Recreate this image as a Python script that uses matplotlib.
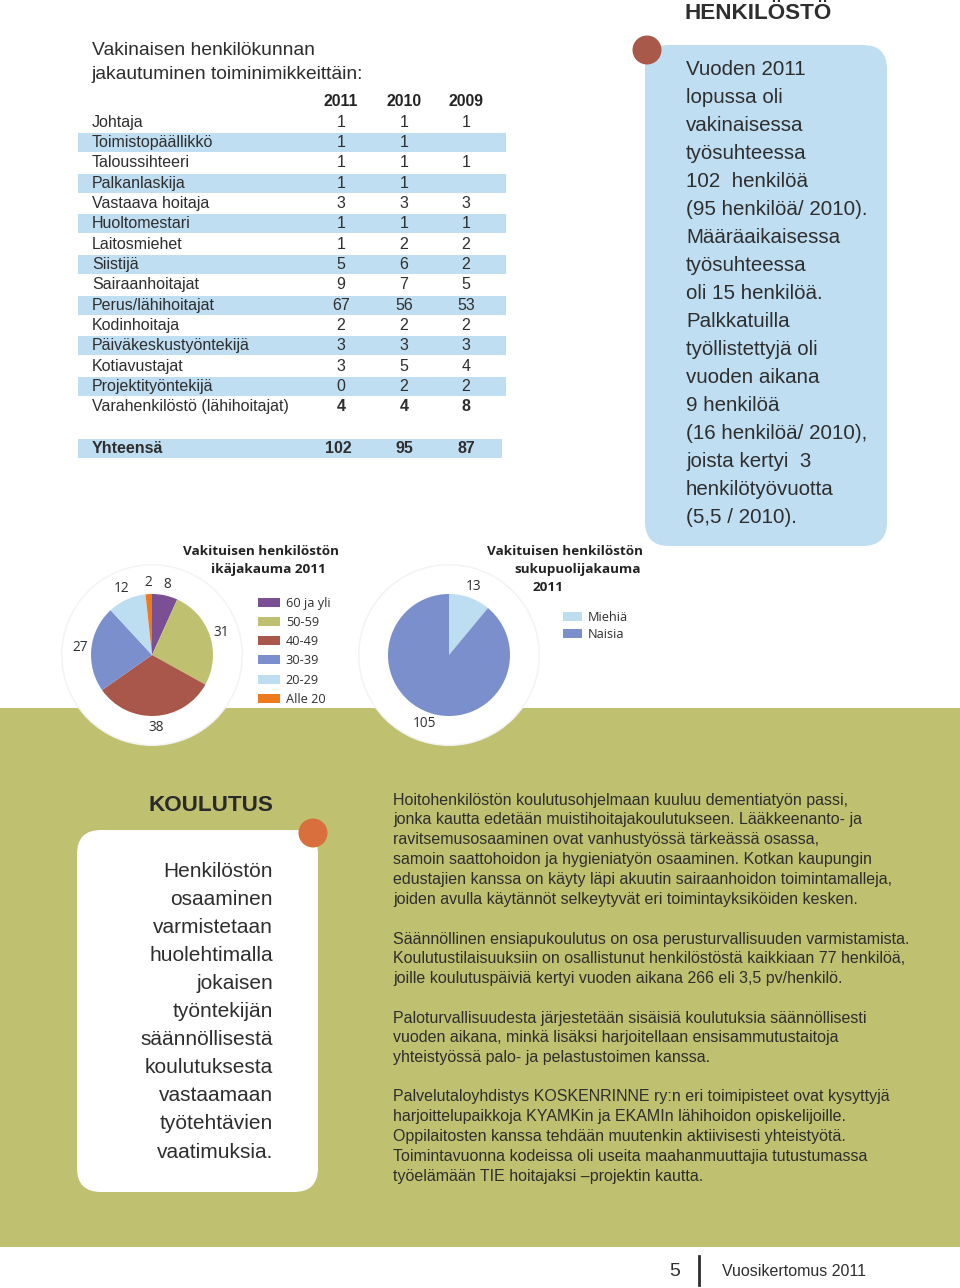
import matplotlib
matplotlib.use("Agg")
import matplotlib.pyplot as plt
from matplotlib.patches import FancyBboxPatch, Circle, Rectangle

# ---------------- data ----------------
roles = ["Johtaja", "Toimistopäällikkö", "Taloussihteeri", "Palkanlaskija",
         "Vastaava hoitaja", "Huoltomestari", "Laitosmiehet", "Siistijä",
         "Sairaanhoitajat", "Perus/lähihoitajat", "Kodinhoitaja",
         "Päiväkeskustyöntekijä", "Kotiavustajat", "Projektityöntekijä",
         "Varahenkilöstö (lähihoitajat)"]
years = ["2011", "2010", "2009"]
v2011 = [1, 1, 1, 1, 3, 1, 1, 5, 9, 67, 2, 3, 3, 0, 4]
v2010 = [1, 1, 1, 1, 3, 1, 2, 6, 7, 56, 2, 3, 5, 2, 4]
v2009 = [1, None, 1, None, 3, 1, 2, 2, 5, 53, 2, 3, 4, 2, 8]
totals = [102, 95, 87]

age_labels = ["60 ja yli", "50-59", "40-49", "30-39", "20-29", "Alle 20"]
age_values = [8, 31, 38, 27, 12, 2]
age_colors = ["#7B4F94", "#BFC170", "#A8574A", "#7A8FCC", "#BDDDF1", "#EE7A1E"]

sex_labels = ["Miehiä", "Naisia"]
sex_values = [13, 105]
sex_colors = ["#BDDDF1", "#7A8FCC"]

box_lines = ["Vuoden 2011", "lopussa oli", "vakinaisessa", "työsuhteessa",
             "102  henkilöä", "(95 henkilöä/ 2010).", "Määräaikaisessa",
             "työsuhteessa", "oli 15 henkilöä.", "Palkkatuilla",
             "työllistettyjä oli", "vuoden aikana", "9 henkilöä",
             "(16 henkilöä/ 2010),", "joista kertyi  3", "henkilötyövuotta",
             "(5,5 / 2010)."]

koulutus_lines = ["Henkilöstön", "osaaminen", "varmistetaan", "huolehtimalla",
                  "jokaisen", "työntekijän", "säännöllisestä", "koulutuksesta",
                  "vastaamaan", "työtehtävien", "vaatimuksia."]

paragraphs = [
    ["Hoitohenkilöstön koulutusohjelmaan kuuluu dementiatyön passi,",
     "jonka kautta edetään muistihoitajakoulutukseen. Lääkkeenanto- ja",
     "ravitsemusosaaminen ovat vanhustyössä tärkeässä osassa,",
     "samoin saattohoidon ja hygieniatyön osaaminen. Kotkan kaupungin",
     "edustajien kanssa on käyty läpi akuutin sairaanhoidon toimintamalleja,",
     "joiden avulla käytännöt selkeytyvät eri toimintayksiköiden kesken."],
    ["Säännöllinen ensiapukoulutus on osa perusturvallisuuden varmistamista.",
     "Koulutustilaisuuksiin on osallistunut henkilöstöstä kaikkiaan 77 henkilöä,",
     "joille koulutuspäiviä kertyi vuoden aikana 266 eli 3,5 pv/henkilö."],
    ["Paloturvallisuudesta järjestetään sisäisiä koulutuksia säännöllisesti",
     "vuoden aikana, minkä lisäksi harjoitellaan ensisammutustaitoja",
     "yhteistyössä palo- ja pelastustoimen kanssa."],
    ["Palvelutaloyhdistys KOSKENRINNE ry:n eri toimipisteet ovat kysyttyjä",
     "harjoittelupaikkoja KYAMKin ja EKAMIn lähihoidon opiskelijoille.",
     "Oppilaitosten kanssa tehdään muutenkin aktiivisesti yhteistyötä.",
     "Toimintavuonna kodeissa oli useita maahanmuuttajia tutustumassa",
     "työelämään TIE hoitajaksi \u2013projektin kautta."],
]

# ---------------- figure ----------------
W, H = 960, 1288
fig = plt.figure(figsize=(W / 100, H / 100), dpi=100)
fig.patch.set_facecolor("white")
bg = fig.add_axes([0, 0, 1, 1])
bg.set_xlim(0, W)
bg.set_ylim(H, 0)
bg.axis("off")

SANS = "Liberation Sans"
PIEF = "Open Sans"
DARK = "#2E2E2E"
GREEN = "#BFC170"
LBLUE = "#C0DEF2"

# green band
bg.add_patch(Rectangle((0, 708), W, 539, facecolor=GREEN, edgecolor="none", zorder=0))

# halos around pies
for cx, cy in [(152, 655), (449, 655)]:
    bg.add_patch(Circle((cx, cy), 91, facecolor="#F3F3F3", edgecolor="none", zorder=1))
    bg.add_patch(Circle((cx, cy), 89.5, facecolor="white", edgecolor="none", zorder=1))

# ---------------- table ----------------
bg.text(92, 50, "Vakinaisen henkilökunnan", fontsize=13.9, family=SANS, color=DARK, va="center")
bg.text(92, 74, "jakautuminen toiminimikkeittäin:", fontsize=13.9, family=SANS, color=DARK, va="center")
col_x = [341, 404, 466]
for x, yr in zip(col_x, years):
    bg.text(x, 101, yr, fontsize=11.3, family=SANS, weight="bold", color="#222222",
            ha="center", va="center")
row_y0, row_dy = 122, 20.35
FS = 11.5
for i, role in enumerate(roles):
    y = row_y0 + i * row_dy
    if i % 2 == 1:
        bg.add_patch(Rectangle((78, y - 9.5), 428, 19, facecolor=LBLUE, edgecolor="none", zorder=1))
    bold = "bold" if i == len(roles) - 1 else "normal"
    bg.text(92, y, role, fontsize=FS, family=SANS, color=DARK, va="center", zorder=2)
    for x, v in zip(col_x, (v2011[i], v2010[i], v2009[i])):
        if v is not None:
            bg.text(x, y, str(v), fontsize=FS, family=SANS, color=DARK, weight=bold,
                    ha="center", va="center", zorder=2)
ty = 448
bg.add_patch(Rectangle((78, ty - 9.5), 424, 19, facecolor=LBLUE, edgecolor="none", zorder=1))
bg.text(92, ty, "Yhteensä", fontsize=FS, family=SANS, weight="bold", color=DARK, va="center", zorder=2)
for x, v in zip(col_x, totals):
    bg.text(x - 3 if v >= 100 else x, ty, str(v), fontsize=FS, family=SANS, weight="bold",
            color=DARK, ha="center", va="center", zorder=2)

# ---------------- HENKILÖSTÖ box ----------------
bg.text(685, 13, "HENKILÖSTÖ", fontsize=16.2, family=SANS, weight="bold", color=DARK, va="center")
bg.add_patch(FancyBboxPatch((645, 45), 242, 501, boxstyle="round,pad=0,rounding_size=24",
                            facecolor=LBLUE, edgecolor="none", zorder=1))
bg.add_patch(Circle((647, 50), 14.5, facecolor="#A9594A", edgecolor="none", zorder=2))
for i, line in enumerate(box_lines):
    bg.text(686, 69 + i * 28.06, line, fontsize=14.8, family=SANS, color=DARK, va="center", zorder=3)

# ---------------- pies ----------------
R = 61.0
def pie_axes(cx, cy):
    s = 3 * R
    ax = fig.add_axes([(cx - s / 2) / W, (H - cy - s / 2) / H, s / W, s / H])
    ax.set_zorder(3)
    return ax

ax1 = pie_axes(152, 655)
w1, t1 = ax1.pie(age_values, colors=age_colors, startangle=90, counterclock=False,
                 labels=[str(v) for v in age_values], labeldistance=1.19,
                 textprops=dict(fontsize=9.8, family=PIEF, color=DARK),
                 wedgeprops=dict(linewidth=0))
for t in t1:
    t.set_ha("center"); t.set_va("center")
ax1.set_xlim(-1.5, 1.5); ax1.set_ylim(-1.5, 1.5); ax1.set_aspect("equal")

ax2 = pie_axes(449, 655)
w2, t2 = ax2.pie(sex_values, colors=sex_colors, startangle=90, counterclock=False,
                 labels=[str(v) for v in sex_values], labeldistance=1.2,
                 textprops=dict(fontsize=9.8, family=PIEF, color=DARK),
                 wedgeprops=dict(linewidth=0))
for t in t2:
    t.set_ha("center"); t.set_va("center")
ax2.set_xlim(-1.5, 1.5); ax2.set_ylim(-1.5, 1.5); ax2.set_aspect("equal")

# pie titles
TF = dict(fontsize=9.7, family=PIEF, weight="bold", color="#222222", ha="center", va="center")
bg.text(261, 551, "Vakituisen henkilöstön", **TF)
bg.text(268, 569, "ikäjakauma 2011", **TF)
bg.text(565, 551, "Vakituisen henkilöstön", **TF)
bg.text(578, 569, "sukupuolijakauma", **TF)
bg.text(548, 587, "2011", **TF)

leg1 = bg.legend(w1, age_labels, loc="upper left", bbox_to_anchor=(258, 597),
                 bbox_transform=bg.transData, frameon=False,
                 prop=dict(family=PIEF, size=9.2), handlelength=1.72, handleheight=0.7,
                 handletextpad=0.45, labelspacing=0.48, borderpad=0, borderaxespad=0)
for t in leg1.get_texts():
    t.set_color(DARK)
bg.add_artist(leg1)
leg2 = bg.legend(w2, sex_labels, loc="upper left", bbox_to_anchor=(563, 611),
                 bbox_transform=bg.transData, frameon=False,
                 prop=dict(family=PIEF, size=9.2), handlelength=1.45, handleheight=0.7,
                 handletextpad=0.45, labelspacing=0.28, borderpad=0, borderaxespad=0)
for t in leg2.get_texts():
    t.set_color(DARK)

# ---------------- KOULUTUS ----------------
bg.text(211, 805, "KOULUTUS", fontsize=16.2, family=SANS, weight="bold", color="#2A2A2A",
        ha="center", va="center")
bg.add_patch(FancyBboxPatch((77, 830), 241, 362, boxstyle="round,pad=0,rounding_size=24",
                            facecolor="white", edgecolor="none", zorder=1))
bg.add_patch(Circle((313, 833), 14.5, facecolor="#D86F3C", edgecolor="none", zorder=2))
for i, line in enumerate(koulutus_lines):
    bg.text(273, 871 + i * 28.1, line, fontsize=15, family=SANS, color=DARK,
            ha="right", va="center", zorder=3)

# paragraphs
para_start = [800, 939, 1018, 1097]
for y0, lines in zip(para_start, paragraphs):
    for j, line in enumerate(lines):
        bg.text(393, y0 + j * 19.8, line, fontsize=11.55, family=SANS, color=DARK, va="center")

# ---------------- footer ----------------
bg.text(675, 1271, "5", fontsize=14, family=SANS, color=DARK, ha="center", va="center")
bg.plot([699, 699], [1256, 1285], color=DARK, lw=2)
bg.text(722, 1271, "Vuosikertomus 2011", fontsize=11.5, family=SANS, color=DARK, va="center")

fig.savefig("out.png", dpi=100)
